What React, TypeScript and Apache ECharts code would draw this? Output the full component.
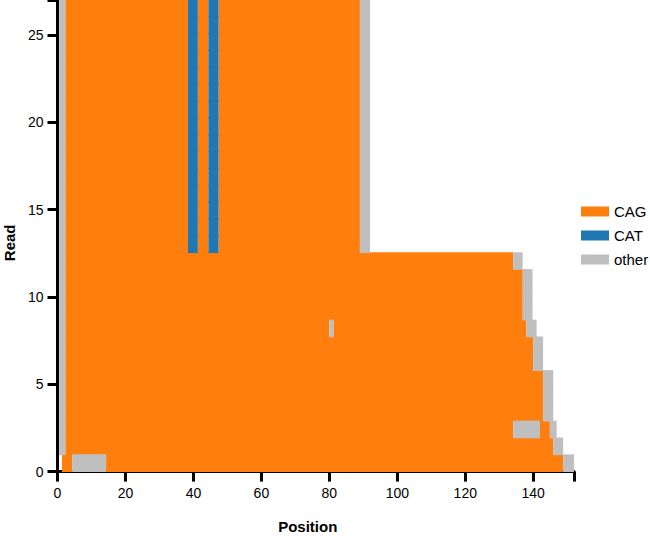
import React, { useEffect, useRef } from "react";
import * as echarts from "echarts";

// Categories and colours
const categories = ["CAG", "CAT", "other"];
const colors = ["#ff7f0e", "#1f77b4", "#bfbfbf"];

// Axis ticks
const xTicks = [0, 20, 40, 60, 80, 100, 120, 140];
const yTicks = [0, 5, 10, 15, 20, 25];
const X_MAX = 152;
const Y_MAX = 27;
const READ_COUNT = 28;

// Segments per read: [start, end, category index] (0 = CAG, 1 = CAT, 2 = other)
const longRead = [[0.5, 2.3, 2], [2.3, 38.4, 0], [38.4, 41.3, 1], [41.3, 44.4, 0], [44.4, 47.4, 1], [47.4, 89.0, 0], [89.0, 92.0, 2]];
const read0 = [[1.3, 4.3, 0], [4.3, 14.3, 2], [14.3, 148.8, 0], [148.8, 152.0, 2]];
const read1 = [[0.5, 2.3, 2], [2.3, 145.9, 0], [145.9, 148.8, 2]];
const read2 = [[0.5, 2.3, 2], [2.3, 134.1, 0], [134.1, 142.0, 2], [142.0, 144.9, 0], [144.9, 146.9, 2]];
const read3to5 = [[0.5, 2.3, 2], [2.3, 142.9, 0], [142.9, 145.9, 2]];
const read6to7 = [[0.5, 2.3, 2], [2.3, 140.0, 0], [140.0, 142.9, 2]];
const read8 = [[0.5, 2.3, 2], [2.3, 80.0, 0], [80.0, 81.2, 2], [81.2, 138.0, 0], [138.0, 141.0, 2]];
const read9to11 = [[0.5, 2.3, 2], [2.3, 136.9, 0], [136.9, 139.8, 2]];
const read12 = [[0.5, 2.3, 2], [2.3, 134.1, 0], [134.1, 136.9, 2]];

// Reads from bottom (index 0) to top
const reads = [
  read0, read1, read2, read3to5, read3to5, read3to5, read6to7, read6to7, read8,
  read9to11, read9to11, read9to11, read12,
  longRead, longRead, longRead, longRead, longRead, longRead, longRead, longRead,
  longRead, longRead, longRead, longRead, longRead, longRead, longRead,
];

const FONT = "Liberation Sans, Arial, sans-serif";

export default function App() {
  const ref = useRef<HTMLDivElement>(null);
  useEffect(() => {
    if (!ref.current) return;
    const chart = echarts.init(ref.current, undefined, { renderer: "svg" });
    const rowSpan = Y_MAX / READ_COUNT;
    const series = categories.map((name, ci) => {
      const data: number[][] = [];
      reads.forEach((segs, r) => {
        segs.forEach((s) => {
          if (s[2] === ci) data.push([s[0], s[1], r]);
        });
      });
      return {
        type: "custom",
        name,
        itemStyle: { color: colors[ci] },
        renderItem: (params: any, api: any) => {
          const r = api.value(2);
          const p0 = api.coord([api.value(0), r * rowSpan]);
          const p1 = api.coord([api.value(1), (r + 1) * rowSpan]);
          return {
            type: "rect",
            shape: { x: p0[0], y: p1[1] - 0.4, width: p1[0] - p0[0], height: p0[1] - p1[1] + 0.8 },
            style: { fill: colors[ci] },
          };
        },
        encode: { x: [0, 1], y: 2 },
        data,
        z: 1,
      };
    });
    const axisCommon = {
      axisLine: { show: true, lineStyle: { color: "#000", width: 3 } },
      axisTick: { show: true, length: 10, lineStyle: { color: "#000", width: 3 } },
      splitLine: { show: false },
      axisLabel: { color: "#000", fontSize: 14, fontFamily: FONT },
      nameLocation: "middle",
    };
    chart.setOption({
      animation: false,
      grid: { left: 57.5, right: 76, top: 0, bottom: 64.4, containLabel: false, outerBoundsMode: "none" },
      legend: {
        orient: "vertical",
        left: 576,
        top: 199,
        itemWidth: 28,
        itemHeight: 10,
        itemGap: 9,
        icon: "rect",
        data: categories,
        textStyle: { color: "#000", fontSize: 15, fontFamily: FONT },
      },
      xAxis: {
        ...axisCommon,
        type: "value",
        min: 0,
        max: X_MAX,
        interval: 20,
        name: "Position",
        nameGap: 47,
        nameTextStyle: { color: "#000", fontSize: 15, fontWeight: "bold", fontFamily: FONT, padding: [0, 16, 0, 0] },
        axisLabel: {
          ...axisCommon.axisLabel,
          margin: 14,
          formatter: (v: number) => (xTicks.includes(v) ? String(v) : ""),
        },
      },
      yAxis: {
        ...axisCommon,
        type: "value",
        min: 0,
        max: Y_MAX,
        interval: 5,
        name: "Read",
        nameGap: 38,
        nameTextStyle: { color: "#000", fontSize: 15, fontWeight: "bold", fontFamily: FONT, padding: [0, 14, 0, 0] },
        axisLabel: {
          ...axisCommon.axisLabel,
          margin: 14,
          formatter: (v: number) => (yTicks.includes(v) ? String(v) : ""),
        },
      },
      series,
    });
    return () => chart.dispose();
  }, []);
  return <div ref={ref} style={{ width: 650, height: 536, position: "absolute", left: 0, top: 0 }} />;
}
